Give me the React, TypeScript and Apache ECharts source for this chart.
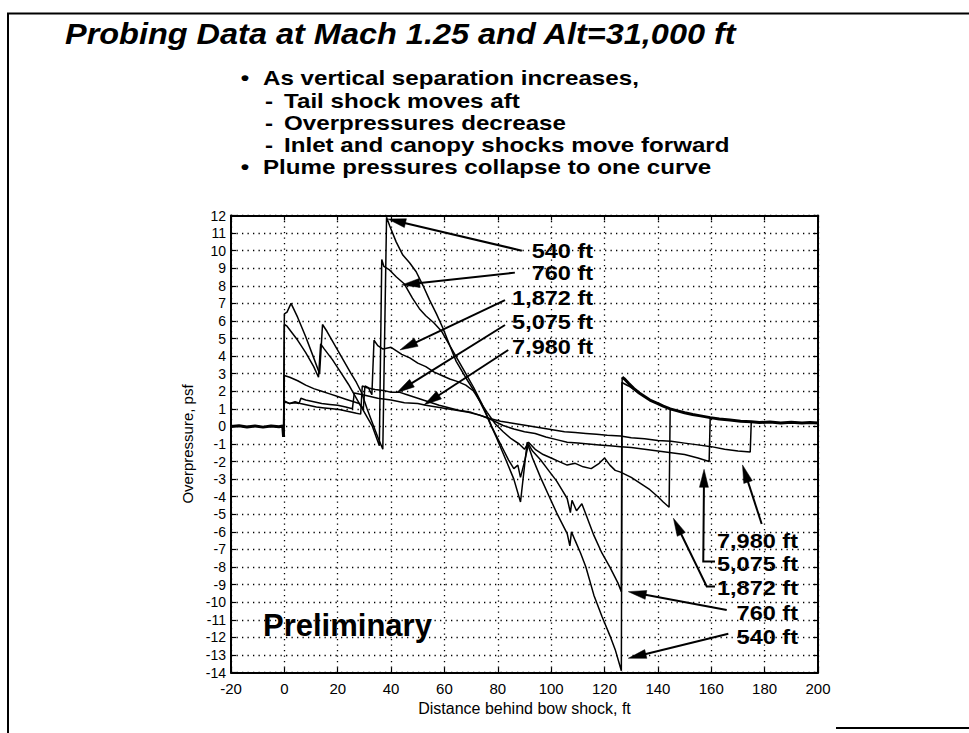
import React, { useEffect, useRef } from "react";
import * as echarts from "echarts";

type P = [number, number];

// ---------- data ----------
const xRange = { min: -20, max: 200, step: 20 };
const yRange = { min: -14, max: 12, step: 1 };

const ambient: P[] = [
  [-20, 0.0], [-17, 0.04], [-14, -0.03], [-11, 0.03], [-8, -0.04], [-5, 0.03],
  [-2, -0.02], [-0.6, 0.02], [-0.3, -0.6],
];

const plume: P[] = [
  [126.6, 2.8], [127.5, 2.7], [129, 2.45], [131, 2.15], [133, 1.9], [135, 1.7], [137, 1.5],
  [140, 1.3], [142, 1.15], [144.6, 1.0], [147, 0.9], [150, 0.78], [153, 0.68], [156, 0.6],
  [159.6, 0.5], [163, 0.42], [167, 0.36], [171, 0.3], [175, 0.27], [178, 0.22], [182, 0.25],
  [186, 0.2], [190, 0.24], [194, 0.2], [197, 0.23], [200, 0.2],
];

const s540: P[] = [
  [-0.3, -0.6], [0, 6.4], [1, 6.5], [2.5, 7.0], [5, 6.2], [8, 5.1], [11, 3.9], [13.2, 3.0],
  [14.3, 5.8], [16, 5.4], [19, 4.6], [22, 3.8], [25, 3.0], [27, 2.5], [29, 1.9], [31, 1.0],
  [33, 0.2], [35, -0.6], [36.9, -1.3], [38.3, 11.9], [39.5, 11.4], [41.9, 10.5], [44.4, 9.75],
  [47, 9.3], [49.4, 8.8], [52, 8.0], [54.4, 7.2], [57, 6.4], [59.4, 5.6], [62, 4.6],
  [64.4, 3.7], [68, 2.77], [71.9, 1.83], [75.6, 0.7], [77, 0.2], [79.4, -0.6], [83, -1.9],
  [86, -3.0], [88.5, -4.3], [91, -0.9], [93, -1.8], [96, -2.9], [99, -3.9], [102, -4.9],
  [104, -5.5], [106, -6.1], [107, -6.8], [107.6, -6.0], [109, -6.5], [111, -7.2], [113, -8.0],
  [116, -9.6], [119, -10.8], [122, -11.9], [124, -12.7], [126.3, -13.9], [126.6, 2.8],
];

const s760: P[] = [
  [-0.3, -0.6], [0, 5.8], [1, 5.7], [3, 5.3], [5, 4.9], [8, 4.2], [11, 3.4], [12.8, 2.8],
  [13.6, 4.7], [15, 4.4], [18, 3.8], [21, 3.1], [24, 2.4], [27, 1.6], [30, 0.8], [33, 0.0],
  [35.6, -1.1], [36.5, 9.5], [37.3, 9.1], [39.4, 8.9], [42, 8.5], [45, 8.1], [48, 7.3],
  [50.6, 6.7], [53, 6.3], [56, 5.9], [59, 5.4], [62, 4.6], [65, 3.8], [68, 3.0], [71, 2.2],
  [74, 1.3], [76, 0.6], [78, -0.1], [80, -0.7], [82, -1.3], [84, -1.9], [86, -2.4],
  [87.5, -2.2], [88.5, -2.9], [90, -2.0], [91.5, -1.0], [93, -1.4], [96, -1.9], [99, -2.5],
  [102, -3.1], [104, -3.6], [106, -4.1], [107.2, -4.9], [107.8, -4.2], [109.5, -4.8],
  [111.5, -4.4], [113, -5.0], [116, -6.2], [119, -7.2], [122, -8.0], [125, -8.9],
  [126.3, -9.4], [126.5, 2.5], [129, 2.3], [133, 1.9],
];

const s1872: P[] = [
  [-0.3, -0.6], [0, 2.9], [2, 2.8], [5, 2.6], [8, 2.35], [11, 2.15], [14, 2.0], [17, 1.85],
  [20, 1.7], [23, 1.55], [26, 1.4], [28, 1.3], [29.6, 1.0], [30.2, 2.3], [31.5, 2.2],
  [32.8, 1.8], [33.6, 4.9], [35, 4.6], [37, 4.4], [40, 4.5], [42, 4.3], [44, 4.1], [47, 3.9],
  [50, 3.6], [53, 3.4], [56, 3.1], [59, 2.9], [62, 2.7], [65, 2.55], [68, 2.35], [71, 2.0],
  [73, 1.5], [76, 0.8], [79, 0.15], [82, -0.3], [85, -0.7], [88, -1.0], [90, -1.3],
  [91.5, -0.9], [94, -1.3], [97, -1.6], [100, -1.8], [103, -2.0], [106, -2.2], [109, -2.1],
  [112, -2.3], [115, -2.4], [118, -2.1], [120, -1.8], [122, -2.2], [124, -2.5], [126, -2.6],
  [130, -2.9], [134, -3.3], [137, -3.6], [140, -4.0], [142, -4.3], [144.2, -4.6], [144.6, 1.0],
];

const s5075: P[] = [
  [-0.3, -0.6], [0, 1.45], [2, 1.3], [4, 1.4], [6, 1.3], [9, 1.2], [12, 1.1], [15, 1.05],
  [18, 1.0], [21, 0.95], [24, 0.85], [27, 0.75], [28.6, 0.7], [29.2, 2.3], [31, 2.2],
  [34, 2.1], [37, 2.05], [40, 1.95], [43, 1.95], [46, 1.8], [50, 1.6], [54, 1.4], [58, 1.2],
  [62, 1.05], [66, 0.9], [70, 0.8], [74, 0.6], [78, 0.35], [82, 0.05], [86, -0.15],
  [90, -0.3], [94, -0.4], [98, -0.6], [102, -0.75], [106, -0.9], [110, -0.95], [114, -1.0],
  [118, -1.05], [122, -1.1], [126, -1.15], [130, -1.2], [135, -1.3], [140, -1.4],
  [145, -1.5], [150, -1.6], [155, -1.8], [159.2, -2.0], [159.6, 0.5],
];

const s7980: P[] = [
  [-0.3, -0.6], [0, 1.4], [2, 1.3], [4, 1.35], [5.5, 1.3], [6.2, 1.6], [8, 1.5], [11, 1.4],
  [14, 1.3], [17, 1.25], [20, 1.2], [23, 1.1], [25.5, 1.0], [26.2, 1.9], [28, 1.85],
  [31, 1.75], [35, 1.6], [40, 1.5], [45, 1.35], [50, 1.3], [53, 1.2], [57, 1.1], [61, 1.0],
  [65, 0.9], [69, 0.8], [73, 0.65], [77, 0.45], [81, 0.3], [85, 0.2], [89, 0.1], [93, 0.0],
  [97, -0.1], [101, -0.2], [105, -0.3], [109, -0.35], [113, -0.4], [117, -0.45],
  [121, -0.5], [126, -0.55], [130, -0.65], [135, -0.7], [140, -0.8], [145, -0.85],
  [150, -0.95], [155, -1.05], [160, -1.15], [165, -1.3], [170, -1.4], [174.6, -1.45], [175, 0.3],
];

// ---------- annotation text and arrows (data units) ----------
const upperLabels = ["540 ft", "760 ft", "1,872 ft", "5,075 ft", "7,980 ft"];
const upperLabelY = [10.0, 8.71, 7.29, 5.96, 4.54];
const upperLabelRightX = 115.7;
const upperArrows: P[][] = [
  [[89.0, 10.0], [38.8, 11.8]],
  [[86.4, 8.75], [44.0, 8.05]],
  [[82.7, 7.19], [43.3, 4.35]],
  [[82.7, 5.77], [42.1, 1.92]],
  [[83.9, 4.35], [52.3, 1.22]],
];

const lowerLabels = ["7,980 ft", "5,075 ft", "1,872 ft", "760 ft", "540 ft"];
const lowerLabelY = [-6.5, -7.84, -9.2, -10.6, -11.96];
const lowerLabelRightX = 192.5;
const lowerArrows: P[][] = [
  [[178.9, -5.55], [171.7, -2.19]],
  [[161.4, -7.69], [157.0, -7.69], [157.3, -2.44]],
  [[161.4, -9.11], [158.3, -9.11], [145.8, -5.22]],
  [[165.8, -10.44], [128.9, -9.4]],
  [[166.4, -11.8], [128.9, -13.19]],
];

const stampText = "Preliminary";
const stampPos: P = [-8.0, -11.3];

const titleText = "Probing Data at Mach 1.25 and Alt=31,000 ft";
const bulletLines = [
  { mark: "•", text: "As vertical separation increases," },
  { mark: "-", text: "Tail shock moves aft" },
  { mark: "-", text: "Overpressures decrease" },
  { mark: "-", text: "Inlet and canopy shocks move forward" },
  { mark: "•", text: "Plume pressures collapse to one curve" },
];
const xName = "Distance behind bow shock, ft";
const yName = "Overpressure, psf";

const FONT = '"Liberation Sans", Arial, Helvetica, sans-serif';

export default function App() {
  const ref = useRef<HTMLDivElement>(null);

  useEffect(() => {
    if (!ref.current) return;
    const chart = echarts.init(ref.current, null, { renderer: "svg" });

    const lineSeries = (name: string, data: P[], width = 1.5) => ({
      name,
      type: "line",
      data,
      symbol: "none",
      silent: true,
      lineStyle: { color: "#000", width },
      z: 5,
    });

    const axisLineStyle = { show: true, onZero: false, lineStyle: { color: "#000", width: 2 } };
    const tickStyle = { show: true, inside: true, length: 5, lineStyle: { color: "#000", width: 1.2 } };
    const splitStyle = { show: true, lineStyle: { color: "#000", width: 1.3, type: [1.3, 4.2] as any } };

    chart.setOption({
      animation: false,
      backgroundColor: "#fff",
      grid: { left: 231, top: 215.5, width: 587, height: 457, containLabel: false },
      xAxis: [
        {
          type: "value",
          min: xRange.min,
          max: xRange.max,
          interval: xRange.step,
          position: "bottom",
          axisLine: axisLineStyle,
          axisTick: tickStyle,
          splitLine: splitStyle,
          axisLabel: { color: "#000", fontSize: 15, fontFamily: FONT, margin: 8, showMinLabel: true, showMaxLabel: true },
          name: xName,
          nameLocation: "middle",
          nameGap: 24,
          nameTextStyle: { color: "#000", fontSize: 16, fontFamily: FONT },
        },
        {
          type: "value",
          min: xRange.min,
          max: xRange.max,
          interval: xRange.step,
          position: "top",
          axisLine: axisLineStyle,
          axisTick: tickStyle,
          axisLabel: { show: false },
          splitLine: { show: false },
        },
      ],
      yAxis: [
        {
          type: "value",
          min: yRange.min,
          max: yRange.max,
          interval: yRange.step,
          position: "left",
          axisLine: axisLineStyle,
          axisTick: tickStyle,
          splitLine: splitStyle,
          axisLabel: { color: "#000", fontSize: 14, fontFamily: FONT, margin: 5, showMinLabel: true, showMaxLabel: true },
          name: yName,
          nameLocation: "middle",
          nameGap: 36,
          nameRotate: 90,
          nameTextStyle: { color: "#000", fontSize: 15, fontFamily: FONT },
        },
        {
          type: "value",
          min: yRange.min,
          max: yRange.max,
          interval: yRange.step,
          position: "right",
          axisLine: axisLineStyle,
          axisTick: tickStyle,
          axisLabel: { show: false },
          splitLine: { show: false },
        },
      ],
      series: [
        lineSeries("ambient", ambient, 3),
        lineSeries("540 ft", s540),
        lineSeries("760 ft", s760),
        lineSeries("1,872 ft", s1872),
        lineSeries("5,075 ft", s5075),
        lineSeries("7,980 ft", s7980),
        lineSeries("plume", plume, 3),
      ],
    });

    const toPx = (p: P) => chart.convertToPixel({ gridIndex: 0 }, p) as number[];

    const graphics: any[] = [];

    // frame
    graphics.push(
      { type: "line", shape: { x1: 7, y1: 13.5, x2: 969, y2: 13.5 }, style: { stroke: "#000", lineWidth: 2 } },
      { type: "line", shape: { x1: 8, y1: 13, x2: 8, y2: 733 }, style: { stroke: "#000", lineWidth: 2 } },
      { type: "line", shape: { x1: 836, y1: 728, x2: 969, y2: 728 }, style: { stroke: "#000", lineWidth: 2 } }
    );

    // title
    graphics.push({
      type: "text",
      x: 65,
      y: 34,
      scaleX: 1.12,
      style: {
        text: titleText,
        fontSize: 29,
        fontWeight: "bold",
        fontStyle: "italic",
        fontFamily: FONT,
        fill: "#000",
        verticalAlign: "middle",
        align: "left",
      },
    });

    // bullets (tight leading as in the slide)
    const bulletY = [78.5, 100.8, 123.1, 145.4, 167.7];
    const bulletFont = { fontSize: 19.8, fontWeight: "bold", fontFamily: FONT, fill: "#000", verticalAlign: "middle" };
    bulletLines.forEach((b, i) => {
      const isBullet = b.mark === "•";
      graphics.push({
        type: "text",
        x: isBullet ? 245 : 269,
        y: bulletY[i],
        scaleX: 1.22,
        style: { ...bulletFont, text: b.mark, align: "center" },
      });
      graphics.push({
        type: "text",
        x: isBullet ? 263 : 284,
        y: bulletY[i],
        scaleX: 1.22,
        style: { ...bulletFont, text: b.text, align: "left" },
      });
    });

    const arrow = (pts: P[]) => {
      const px = pts.map(toPx);
      const tip = px[px.length - 1];
      const prev = px[px.length - 2];
      const dx = tip[0] - prev[0];
      const dy = tip[1] - prev[1];
      const len = Math.hypot(dx, dy);
      const ux = dx / len;
      const uy = dy / len;
      const headLen = 18;
      const headW = 4.5;
      const base = [tip[0] - ux * headLen, tip[1] - uy * headLen];
      const left = [base[0] - uy * headW, base[1] + ux * headW];
      const right = [base[0] + uy * headW, base[1] - ux * headW];
      graphics.push({
        type: "polyline",
        z: 50,
        shape: { points: [...px.slice(0, -1), [base[0] + ux * 2, base[1] + uy * 2]] },
        style: { stroke: "#000", lineWidth: 2, fill: null },
      });
      graphics.push({
        type: "polygon",
        z: 50,
        shape: { points: [tip, left, right] },
        style: { fill: "#000", stroke: "#000", lineWidth: 0.5 },
      });
    };

    upperArrows.forEach(arrow);
    lowerArrows.forEach(arrow);

    const label = (text: string, p: P) => {
      const [x, y] = toPx(p);
      graphics.push({
        type: "text",
        z: 60,
        x,
        y,
        scaleX: 1.12,
        style: { text, fontSize: 21, fontWeight: "bold", fontFamily: FONT, fill: "#000", align: "right", verticalAlign: "middle" },
      });
    };
    upperLabels.forEach((t, i) => label(t, [upperLabelRightX, upperLabelY[i]]));
    lowerLabels.forEach((t, i) => label(t, [lowerLabelRightX, lowerLabelY[i]]));

    const sp = toPx(stampPos);
    graphics.push({
      type: "text",
      z: 60,
      x: sp[0],
      y: sp[1],
      style: { text: stampText, fontSize: 31, fontWeight: "bold", fontFamily: FONT, fill: "#000", align: "left", verticalAlign: "middle" },
    });

    chart.setOption({ graphic: graphics });

    return () => chart.dispose();
  }, []);

  return (
    <div
      ref={ref}
      style={{ position: "fixed", left: 0, top: 0, width: 969, height: 733, background: "#fff" }}
    />
  );
}
